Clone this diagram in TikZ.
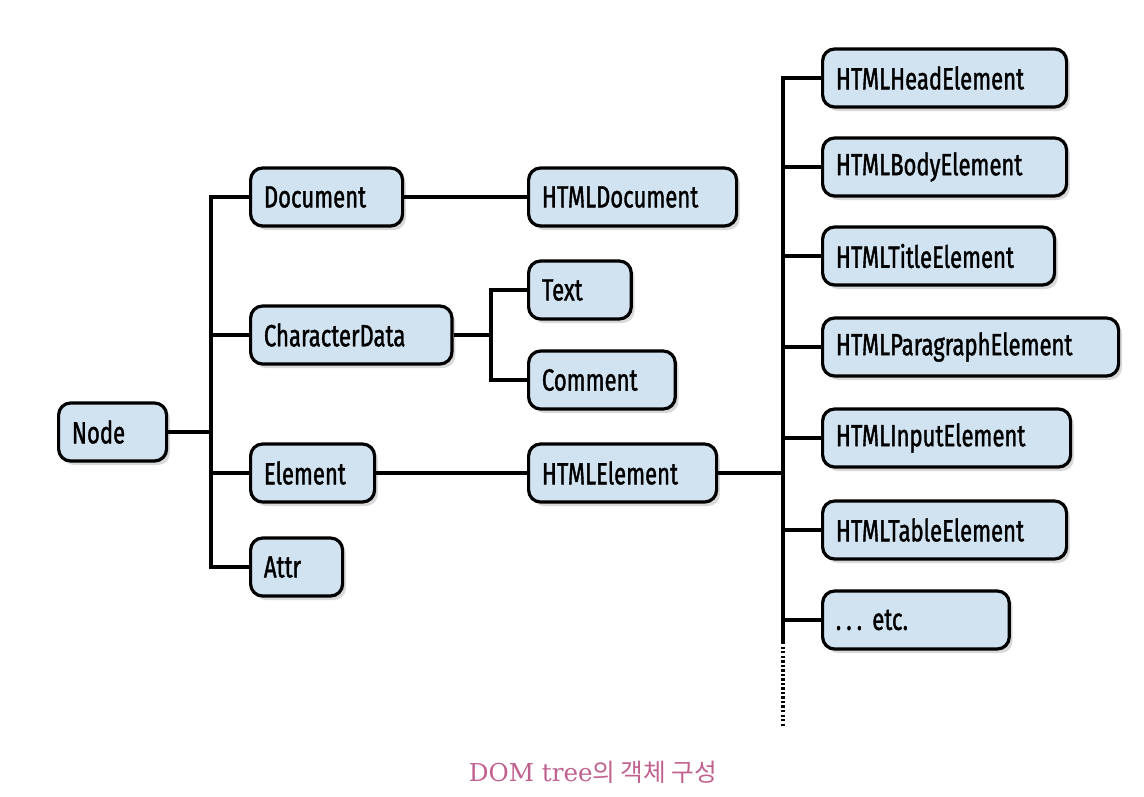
\documentclass[tikz,border=0pt]{standalone}
\usepackage{fontspec}
\usetikzlibrary{shadows}
\newfontfamily\boxfont[FakeStretch=0.72, FakeBold=1.2]{Fira Sans}
\newfontfamily\capserif{DejaVu Serif}
\newfontfamily\capkr{Noto Sans CJK KR}
\definecolor{boxblue}{RGB}{209,226,240}
\definecolor{capmauve}{RGB}{192,98,143}

\tikzset{
  box/.style={rectangle, rounded corners=9pt, draw=black, line width=2.4pt,
              fill=boxblue, anchor=west, minimum height=43.5pt,
              inner xsep=10pt, inner ysep=0pt, align=left,
              font=\boxfont\fontsize{23}{26}\selectfont,
              drop shadow={opacity=0.3, shadow xshift=2.5pt, shadow yshift=-3pt}},
  link/.style={line width=2.4pt, black},
}

\begin{document}
\begin{tikzpicture}[x=0.75pt, y=-0.75pt]
\useasboundingbox (0,0) rectangle (1144,796);

% first level
\node[box, text width=61pt]  (nd)  at (57,432) {Node};
\node[box, text width=94pt]  (doc) at (249,197) {Document};
\node[box, text width=131pt] (cd)  at (249,335) {CharacterData};
\node[box, text width=73pt]  (el)  at (249,473) {Element};
\node[box, text width=49pt]  (at)  at (249,567) {Attr};

% second level
\node[box, text width=136pt] (hdoc) at (527,197) {HTMLDocument};
\node[box, text width=57pt]  (txt)  at (527,290) {Text};
\node[box, text width=90pt]  (com)  at (527,380) {Comment};
\node[box, text width=121pt] (hel)  at (527,473) {HTMLElement};

% html elements
\node[box, text width=163pt] (head)  at (821,78)  {HTMLHeadElement};
\node[box, text width=163pt] (body)  at (821,167) {HTMLBodyElement};
\node[box, text width=154pt] (title) at (821,256) {HTMLTitleElement};
\node[box, text width=202pt] (para)  at (821,347) {HTMLParagraphElement};
\node[box, text width=166pt] (input) at (821,438) {HTMLInputElement};
\node[box, text width=163pt] (table) at (821,530) {HTMLTableElement};
\node[box, text width=120pt] (etc)   at (821,620) {.\,.\,.\ etc.};

\coordinate (trunk) at (211,432);
\coordinate (cdj)   at (491,335);
\coordinate (rtend) at (783,642);
\coordinate (rtdot) at (783,728);

% connectors
\draw[link] (nd.east) -- (trunk);
\draw[link] (doc.west) -| (at.west -| trunk) -- (at.west);
\draw[link] (cd.west) -- (cd.west -| trunk);
\draw[link] (el.west) -- (el.west -| trunk);
\draw[link] (doc.east) -- (hdoc.west);
\draw[link] (cd.east) -- (cdj);
\draw[link] (txt.west) -| (cdj) |- (com.west);
\draw[link] (el.east) -- (hel.west);
\draw[link] (hel.east) -- (hel.east -| rtend);
\draw[link] (head.west) -| (rtend);
\foreach \n in {body,title,para,input,table,etc}
  \draw[link] (\n.west) -- (\n.west -| rtend);
\draw[line width=2.4pt, dash pattern=on 1.8pt off 1.6pt] (rtend) -- (rtdot);

\node[text=capmauve, font=\fontsize{18.5}{22}\selectfont] (cap) at (593,772)
  {\capserif DOM tree\capkr 의 객체 구성};
\end{tikzpicture}
\end{document}
